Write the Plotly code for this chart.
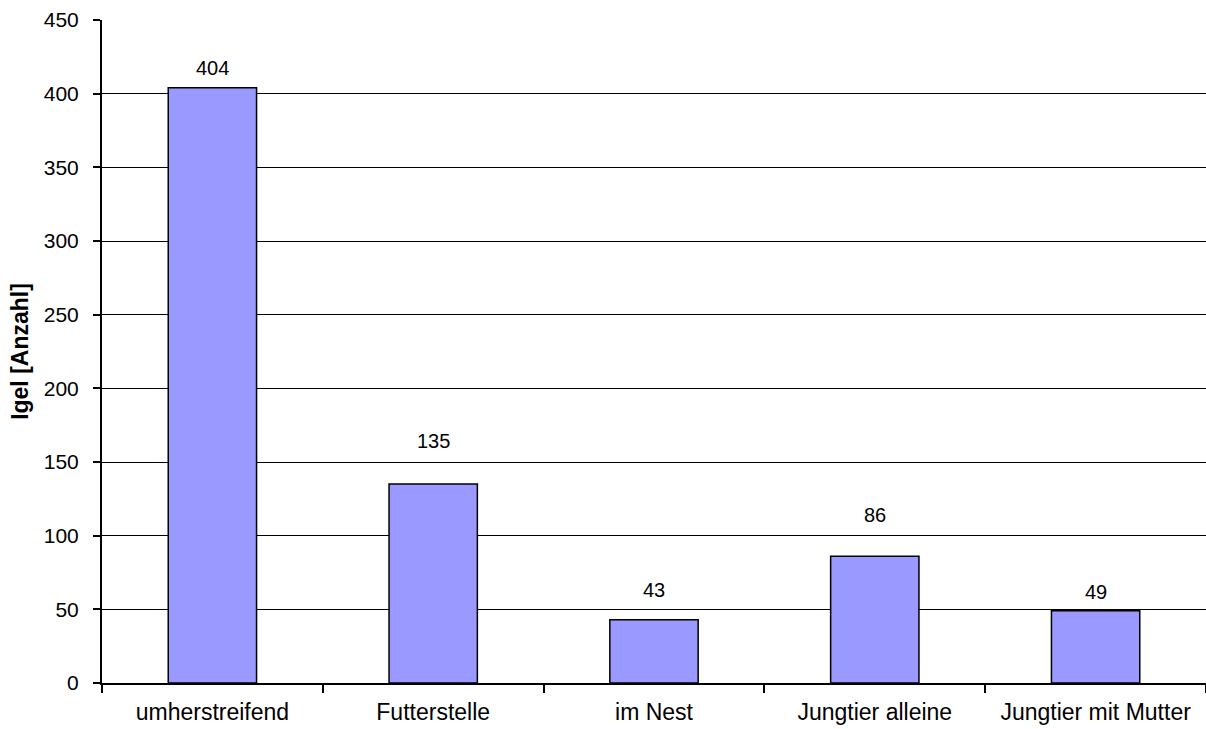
import plotly.graph_objects as go

categories = ["umherstreifend", "Futterstelle", "im Nest", "Jungtier alleine", "Jungtier mit Mutter"]
counts = [404, 135, 43, 86, 49]
y_ticks = [0, 50, 100, 150, 200, 250, 300, 350, 400, 450]

# vertical pixel lift of each value label above its bar
label_lift = [7, 30, 17, 28, 6]

FONT = "Liberation Sans, Arial"

fig = go.Figure()
fig.add_trace(go.Bar(
    x=categories,
    y=counts,
    width=0.4,
    marker=dict(color="#9999FF", line=dict(color="#000000", width=1.5)),
    showlegend=False,
))

# value labels above each bar
for cat, val, lift in zip(categories, counts, label_lift):
    fig.add_annotation(
        x=cat, y=val, text=str(val), showarrow=False,
        yanchor="bottom", yshift=lift,
        font=dict(family=FONT, size=20, color="#000000"),
    )

fig.update_layout(
    width=1206, height=729,
    margin=dict(l=102, r=0, t=20, b=46),
    paper_bgcolor="#FFFFFF",
    plot_bgcolor="#FFFFFF",
    font=dict(family=FONT, color="#000000"),
    bargap=0.6,
)

fig.update_xaxes(
    type="category",
    automargin=False,
    showline=True, linecolor="#000000", linewidth=2,
    ticks="outside", tickson="boundaries", ticklen=8, tickwidth=2, tickcolor="#000000",
    tickfont=dict(size=23),
    ticklabelstandoff=7,
    showgrid=False,
)

fig.update_yaxes(
    range=[0, 450],
    tickvals=y_ticks,
    automargin=False,
    showline=True, linecolor="#000000", linewidth=2,
    ticks="outside", ticklen=7, tickwidth=2, tickcolor="#000000",
    tickfont=dict(size=21),
    ticklabelstandoff=10,
    showgrid=True, gridcolor="#000000", gridwidth=1.3,
    zeroline=False,
    title=dict(text="<b>Igel [Anzahl]</b>", font=dict(size=23), standoff=9),
)

fig.write_html("out.html")
